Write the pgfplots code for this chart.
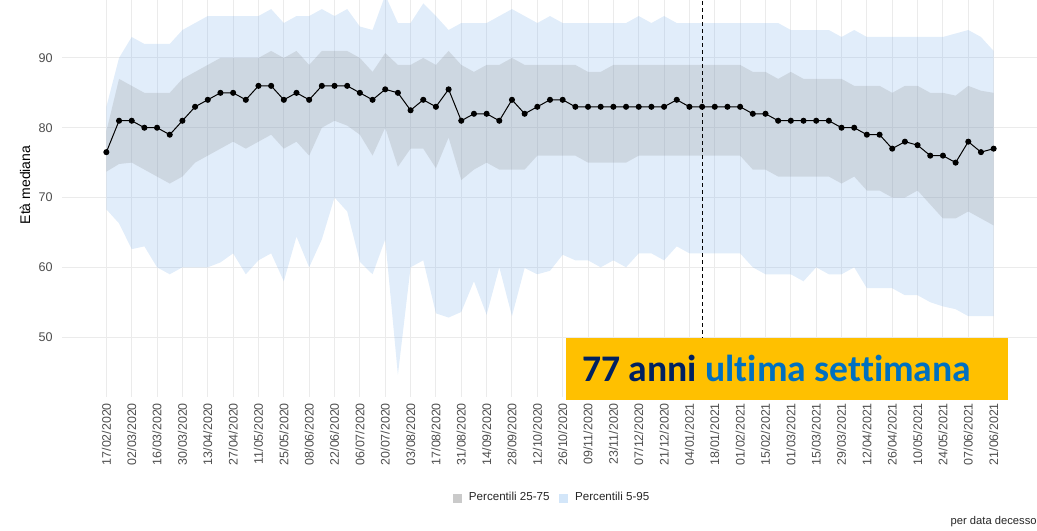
\documentclass[border=0pt]{standalone}
\usepackage{pgfplots}
\pgfplotsset{compat=1.18}
\usepackage{pgfplotstable}
\usepgfplotslibrary{fillbetween}
\usepackage{fontspec}
\setmainfont{Liberation Sans}
\newfontfamily\carlito{Carlito}[Ligatures=NoCommon]
\definecolor{gridc}{HTML}{EBEBEB}
\definecolor{tickc}{HTML}{4D4D4D}
\definecolor{bandblue}{RGB}{135,183,235}
\definecolor{bandgray}{RGB}{128,128,128}
\definecolor{leggray}{HTML}{CACACA}
\definecolor{legblue}{HTML}{D3E6F9}
\definecolor{boxyellow}{HTML}{FFC000}
\definecolor{navy}{HTML}{002060}
\definecolor{boxblue}{HTML}{0070C0}

\pgfplotstableread{
i med p5 p25 p75 p95
0 76.5 68.3 73.7 79.5 83
1 81 66.3 74.8 87 90
2 81 62.6 75 86 93
3 80 63 74 85 92
4 80 60 73 85 92
5 79 59 72 85 92
6 81 60 73 87 94
7 83 60 75 88 95
8 84 60 76 89 96
9 85 60.7 77 90 96
10 85 62 78 90 96
11 84 59 77 90 96
12 86 61 78 90 96
13 86 62 79 91 97
14 84 58 77 90 95
15 85 64.4 78 91 96
16 84 60 76 89 96
17 86 64 80 91 97
18 86 70 81 91 96
19 86 68 80.3 91 97
20 85 60.8 79 90 94.5
21 84 59 76 88 94
22 85.5 64 80 90.7 99
23 85 44.6 74.4 89 95
24 82.5 60 77 89 95
25 84 61 77 90 97.8
26 83 53.4 74.2 89 96
27 85.5 52.8 78.6 91 94
28 81 53.6 72.5 89 95
29 82 58 74 88 95
30 82 53.2 75 89 95
31 81 60 74 89 96
32 84 53 74 90 97
33 82 59.9 74 89 96
34 83 59 76 89 95
35 84 59.5 76 89 96
36 84 61.8 76 89 95
37 83 61 76 89 95
38 83 61 75 88 95
39 83 60 75 88 95
40 83 61 75 89 95
41 83 60 75 89 95
42 83 62 76 89 96
43 83 62 76 89 95
44 83 61 76 89 96
45 84 63 76 89 95
46 83 62 76 89 95
47 83 62 76 89 95
48 83 62 76 89 95
49 83 62 76 89 95
50 83 62 76 89 95
51 82 60 74 88 95
52 82 59 74 88 95
53 81 59 73 87 95
54 81 59 73 88 94
55 81 58 73 87 94
56 81 60 73 87 94
57 81 59 73 87 94
58 80 59 72 87 93
59 80 60 73 86 94
60 79 57 71 86 93
61 79 57 71 86 93
62 77 57 70 85 93
63 78 56 70 86 93
64 77.5 56 71 86 93
65 76 55 69 85 93
66 76 54.4 67 85 93
67 75 54 67 84.6 93.5
68 78 53 68 86 94
69 76.5 53 67 85.3 93
70 77 53 66 85 91
}\data

\begin{document}
\begin{tikzpicture}
\begin{axis}[
  at={(31pt,66.65pt)}, anchor=south west,
  scale only axis, width=488pt, height=198.35pt,
  xmin=-3.5, xmax=73.5, ymin=41.46, ymax=98.3,
  axis line style={draw=none},
  major tick length=0pt,
  xtick={0,2,...,70},
  xticklabels={17/02/2020,02/03/2020,16/03/2020,30/03/2020,13/04/2020,27/04/2020,11/05/2020,25/05/2020,08/06/2020,22/06/2020,06/07/2020,20/07/2020,03/08/2020,17/08/2020,31/08/2020,14/09/2020,28/09/2020,12/10/2020,26/10/2020,09/11/2020,23/11/2020,07/12/2020,21/12/2020,04/01/2021,18/01/2021,01/02/2021,15/02/2021,01/03/2021,15/03/2021,29/03/2021,12/04/2021,26/04/2021,10/05/2021,24/05/2021,07/06/2021,21/06/2021},
  ytick={50,60,70,80,90},
  /pgf/number format/assume math mode=true,
  xticklabel style={rotate=90, anchor=east, inner sep=3pt, font=\fontsize{6.2pt}{7pt}\selectfont, text=tickc},
  yticklabel style={anchor=east, inner sep=0pt, xshift=-4.5pt, font=\fontsize{6.3pt}{7pt}\selectfont, text=tickc},
  grid=major,
  major grid style={color=gridc, line width=0.5pt},
  every axis y label/.style={at={(rel axis cs:-0.0379,0.5337)}, rotate=90, anchor=center, font=\fontsize{7pt}{8pt}\selectfont},
  ylabel={Età mediana},
  legend columns=2,
  legend style={at={(rel axis cs:0.503,-0.2554)}, anchor=center, draw=none, fill=none,
    font=\fontsize{5.8pt}{6.5pt}\selectfont, text=black!85,
    nodes={inner sep=1.8pt},
    /tikz/every odd column/.append style={column sep=1.8pt},
    /tikz/every even column/.append style={column sep=3pt}},
]
\addplot[draw=none, name path=p95, forget plot] table[x=i,y=p95]{\data};
\addplot[draw=none, name path=p5, forget plot] table[x=i,y=p5]{\data};
\addplot[draw=none, name path=p75, forget plot] table[x=i,y=p75]{\data};
\addplot[draw=none, name path=p25, forget plot] table[x=i,y=p25]{\data};
\addplot[fill=bandblue, fill opacity=0.25, draw=none, forget plot] fill between[of=p95 and p5];
\addplot[fill=bandgray, fill opacity=0.2, draw=none, forget plot] fill between[of=p75 and p25];
\addplot[black, line width=0.5pt, dash pattern=on 2pt off 1.5pt, forget plot] coordinates {(47,41.46) (47,98.3)};
\addplot[black, line width=0.5pt, mark=*, mark size=1.25pt, forget plot] table[x=i,y=med]{\data};
\addlegendimage{legend image code/.code={\fill[leggray] (0pt,-2pt) rectangle (4pt,2pt);}}
\addlegendentry{Percentili 25-75}
\addlegendimage{legend image code/.code={\fill[legblue] (0pt,-2pt) rectangle (4pt,2pt);}}
\addlegendentry{Percentili 5-95}
\end{axis}
\fill[boxyellow] (283pt,65pt) rectangle (503.85pt,96.15pt);
\node[anchor=base west, inner sep=0pt] at (290.85pt,74.15pt) {\carlito\bfseries\fontsize{18.8pt}{22pt}\selectfont\textcolor{navy}{77 anni} \textcolor{boxblue}{ultima settimana}};
\node[anchor=east, inner sep=0pt, font=\fontsize{5.6pt}{6.5pt}\selectfont, text=black!85] at (518.5pt,4pt) {per data decesso};
\pgfresetboundingbox
\path[use as bounding box] (0,0) rectangle (518.5pt,265pt);
\end{tikzpicture}
\end{document}
